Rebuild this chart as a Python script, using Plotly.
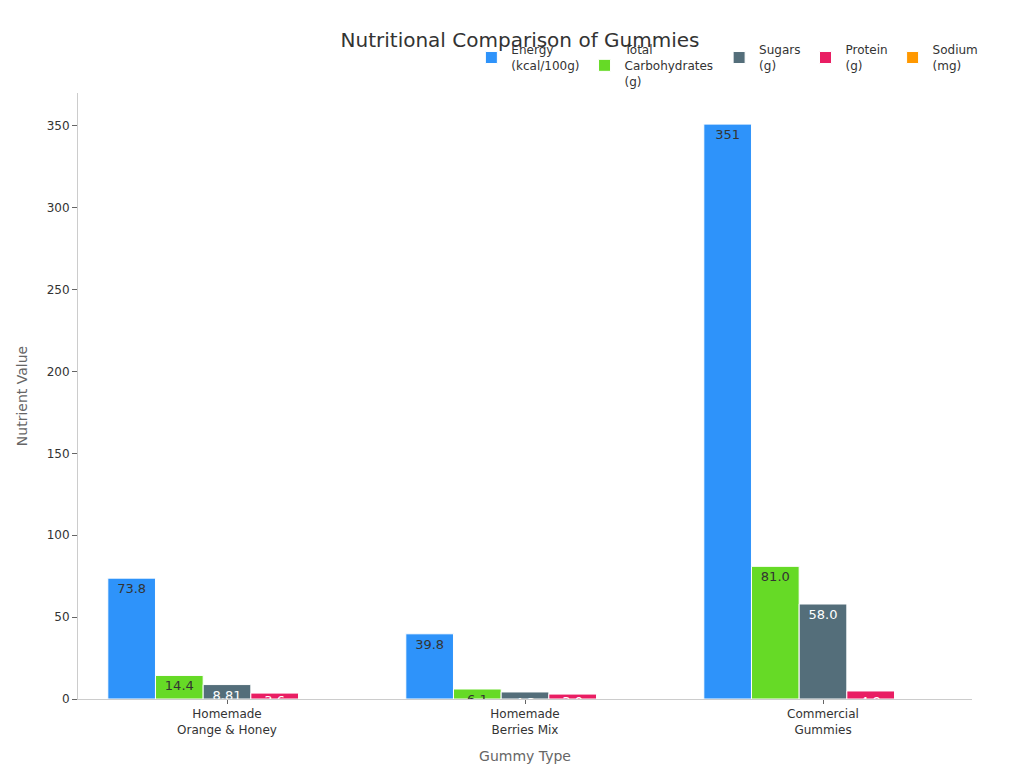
import plotly.graph_objects as go

gummies = ["Homemade<br>Orange & Honey", "Homemade<br>Berries Mix", "Commercial<br>Gummies"]
series = ["Energy<br>(kcal/100g)", "Total<br>Carbohydrates<br>(g)", "Sugars<br>(g)", "Protein<br>(g)", "Sodium<br>(mg)"]
energy = [73.8, 39.8, 351]
carbs = [14.4, 6.1, 81.0]
sugars = [8.81, 4.3, 58.0]
protein = [3.6, 3.0, 4.9]
sodium = [0, 0, 0]
colors = ["#2E93FA", "#66DA26", "#546E7A", "#E91E63", "#FF9800"]
text_colors = ["#333", "#333", "white", "white", "white"]


def fmt(v):
    return f"{v:.3g}" if v >= 100 else f"{v:.3}" if v < 10 else f"{v:.1f}"


fig = go.Figure()
for name, vals, c, tc in zip(series, [energy, carbs, sugars, protein, sodium], colors, text_colors):
    fig.add_trace(go.Bar(
        x=gummies, y=vals, name=name, marker_color=c,
        marker_line=dict(color="white", width=1),
        text=[fmt(v) if v else "" for v in vals], textposition="inside",
        insidetextanchor="end", textfont=dict(size=13, color=tc),
        constraintext="none",
    ))

fig.update_layout(
    template="plotly_white",
    width=1024, height=768,
    font=dict(family="DejaVu Sans", color="#333"),
    title=dict(text="Nutritional Comparison of Gummies", x=0.5, y=0.967, font=dict(size=20, color="#333")),
    barmode="group", bargap=0.2, bargroupgap=0,
    legend=dict(orientation="h", x=0.44, y=1.095, xanchor="left", yanchor="top", font=dict(size=12)),
    margin=dict(l=70, r=60, t=85, b=77),
    xaxis=dict(title=dict(text="Gummy Type", font=dict(color="#666", size=14)), showline=True, linecolor="#ccc",
               ticks="outside", tickcolor="#666", ticklen=4),
    yaxis=dict(title=dict(text="Nutrient Value", font=dict(color="#666", size=14)), range=[0, 370],
               showgrid=False, showline=True, linecolor="#ccc", ticks="outside", tickcolor="#666", ticklen=5,
               zeroline=False),
    uniformtext=dict(minsize=13, mode="show"),
)
fig.write_html("out.html")
